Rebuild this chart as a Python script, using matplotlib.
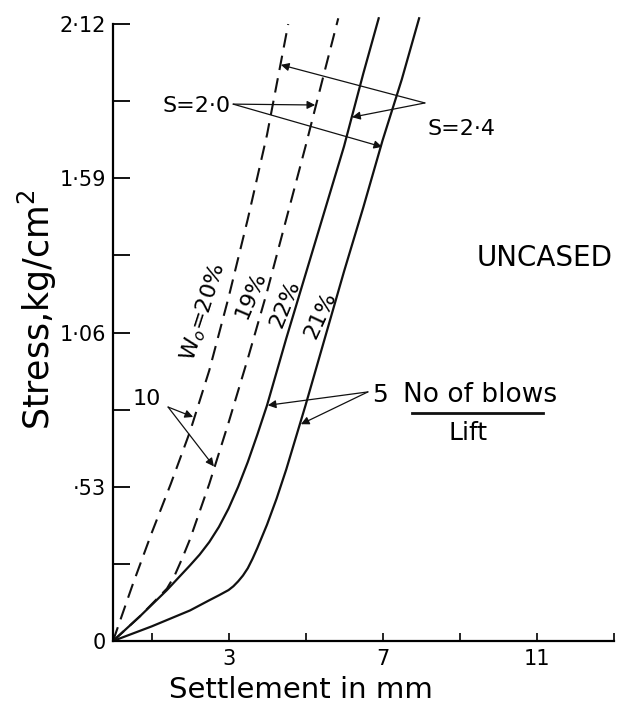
import matplotlib
matplotlib.use('Agg')
import matplotlib.pyplot as plt

# settlement (mm) vs stress (kg/cm2)
w20_x = [0, 0.5, 1.0, 1.5, 2.0, 2.5, 3.0, 3.5, 4.0, 4.55]
w20_y = [0, 0.19, 0.37, 0.54, 0.72, 0.93, 1.18, 1.45, 1.74, 2.12]

w19_x = [0, 0.7, 1.4, 1.6, 1.8, 2.0, 2.5, 3.0, 3.5, 4.0, 4.5, 5.0, 5.5, 5.85]
w19_y = [0, 0.085, 0.18, 0.225, 0.285, 0.35, 0.54, 0.75, 0.97, 1.20, 1.45, 1.70, 1.96, 2.14]

w22_x = [0, 0.7, 1.4, 2.0, 2.25, 2.5, 2.75, 3.0, 3.25, 3.5, 3.75, 4.0,
         4.5, 5.0, 5.5, 6.0, 6.5, 6.9]
w22_y = [0, 0.085, 0.175, 0.26, 0.297, 0.34, 0.392, 0.455, 0.53, 0.615, 0.71, 0.81,
         1.04, 1.26, 1.48, 1.70, 1.95, 2.14]

w21_x = [0, 1.0, 2.0, 2.5, 2.75, 3.0, 3.125, 3.25, 3.375, 3.5, 3.625, 3.75, 4.0,
         4.25, 4.5, 4.75, 5.0, 5.5, 6.0, 6.5, 7.0, 7.5, 7.95]
w21_y = [0, 0.05, 0.105, 0.14, 0.157, 0.175, 0.188, 0.205, 0.225, 0.25, 0.283, 0.32, 0.40,
         0.49, 0.59, 0.70, 0.81, 1.04, 1.27, 1.49, 1.72, 1.93, 2.14]

y_ticks = [0, 0.53, 1.06, 1.59, 2.12]
y_labels = ['0', '·53', '1·06', '1·59', '2·12']
y_minor = [0.265, 0.795, 1.325, 1.855]
x_ticks = [3, 7, 11]
x_minor = [1, 5, 9, 13]

plt.rcParams['font.family'] = ['DejaVu Sans']
fig = plt.figure(figsize=(6.2, 7.15), dpi=100)
ax = fig.add_axes([0.1823, 0.1035, 0.8073, 0.8750])

ink = '#111111'
dash = (0, (7, 4))
ax.plot(w20_x, w20_y, color=ink, lw=1.5, linestyle=dash)
ax.plot(w19_x, w19_y, color=ink, lw=1.5, linestyle=dash)
ax.plot(w22_x, w22_y, color=ink, lw=1.6)
ax.plot(w21_x, w21_y, color=ink, lw=1.6)

ax.set_xlim(0, 13)
ax.set_ylim(0, 2.15)
ax.spines['top'].set_visible(False)
ax.spines['right'].set_visible(False)
ax.spines['left'].set_bounds(0, 2.12)
ax.spines['left'].set_linewidth(1.6)
ax.spines['bottom'].set_linewidth(1.6)

ax.set_yticks(y_ticks)
ax.set_yticklabels(y_labels)
ax.set_yticks(y_minor, minor=True)
ax.set_xticks(x_ticks)
ax.set_xticks(x_minor, minor=True)
ax.tick_params(axis='y', which='both', direction='in', length=12, width=1.3,
               labelsize=15, pad=5)
ax.tick_params(axis='x', which='both', direction='in', length=6, width=1.2,
               labelsize=15, pad=6)

ax.set_xlabel('Settlement in mm', fontsize=21)
ax.xaxis.set_label_coords(0.375, -0.056)
ax.set_ylabel('Stress,kg/cm$^2$', fontsize=25)
ax.yaxis.set_label_coords(-0.108, 0.529)

# curve labels
ax.text(2.34, 1.13, 'W$_o$=20%', rotation=72, fontsize=16, ha='center', va='center')
ax.text(3.58, 1.19, '19%', rotation=67, fontsize=16, ha='center', va='center')
ax.text(4.47, 1.16, '22%', rotation=68, fontsize=16, ha='center', va='center')
ax.text(5.38, 1.12, '21%', rotation=65, fontsize=16, ha='center', va='center')

arrow = dict(arrowstyle='-|>', lw=0.9, color=ink, mutation_scale=12,
             shrinkA=0, shrinkB=0)

ax.text(2.16, 1.84, 'S=2·0', fontsize=16, ha='center', va='center')
ax.annotate('', xy=(5.25, 1.842), xytext=(3.12, 1.845), arrowprops=arrow)
ax.annotate('', xy=(6.99, 1.698), xytext=(3.12, 1.845), arrowprops=arrow)

ax.text(9.06, 1.76, 'S=2·4', fontsize=16, ha='center', va='center')
ax.annotate('', xy=(4.36, 1.98), xytext=(8.10, 1.849), arrowprops=arrow)
ax.annotate('', xy=(6.21, 1.80), xytext=(8.10, 1.849), arrowprops=arrow)

ax.text(0.88, 0.832, '10', fontsize=16, ha='center', va='center')
ax.annotate('', xy=(2.08, 0.77), xytext=(1.43, 0.804), arrowprops=arrow)
ax.annotate('', xy=(2.62, 0.60), xytext=(1.43, 0.804), arrowprops=arrow)

ax.text(6.94, 0.845, '5', fontsize=18, ha='center', va='center')
ax.annotate('', xy=(4.02, 0.81), xytext=(6.62, 0.856), arrowprops=arrow)
ax.annotate('', xy=(4.88, 0.745), xytext=(6.62, 0.856), arrowprops=arrow)
ax.text(7.53, 0.845, 'No of blows', fontsize=19, ha='left', va='center')
ax.plot([7.77, 11.17], [0.784, 0.784], color=ink, lw=2)
ax.text(9.22, 0.715, 'Lift', fontsize=18, ha='center', va='center')

ax.text(11.22, 1.316, 'UNCASED', fontsize=20, ha='center', va='center')

fig.savefig('out.png', dpi=100, facecolor='white')
